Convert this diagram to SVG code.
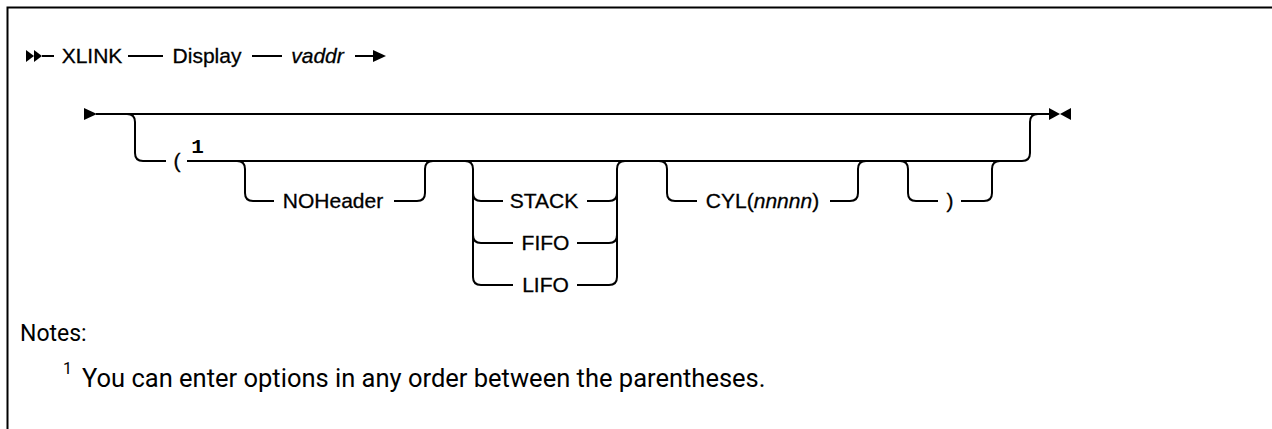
<svg xmlns="http://www.w3.org/2000/svg" width="1272" height="429" viewBox="0 0 1272 429">
<style>
  .t { font-family: "Liberation Sans", Arial, sans-serif; font-size: 21px; fill: #000; stroke: #000; stroke-width: 0.3; }
  .i { font-style: italic; }
  .sup { font-family: "Liberation Mono", "DejaVu Sans Mono", monospace; font-size: 21px; font-weight: bold; fill: #000; }
  .n { font-family: "Roboto", "Liberation Sans", sans-serif; fill: #000; }
  .ln { fill: none; stroke: #000; stroke-width: 2; }
  .ar { fill: #000; }
</style>
<rect x="0" y="0" width="1272" height="429" fill="#fff"/>
<path class="ln" d="M7.5,429 V7.5 H1272" stroke-width="2.5"/>

<g id="connectors">
  <!-- row 1 -->
  <polygon class="ar" points="26,50 34,56 26,62"/>
  <polygon class="ar" points="34,50 42,56 34,62"/>
  <path class="ln" d="M42,56 H54"/>
  <path class="ln" d="M128,56 H163"/>
  <path class="ln" d="M252,56 H282"/>
  <path class="ln" d="M355,56 H374"/>
  <polygon class="ar" points="373,50 386,56 373,62"/>
  <!-- row 2 main -->
  <polygon class="ar" points="84,108 97,114 84,120"/>
  <path class="ln" d="M96,114 H1050"/>
  <polygon class="ar" points="1049,108 1060,114 1049,120"/>
  <polygon class="ar" points="1071,108 1060,114 1071,120"/>
  <!-- optional parenthesis group -->
  <path class="ln" d="M127,114 Q135,114 135,122 V153 Q135,161 143,161 H166"/>
  <path class="ln" d="M187,161 H1022 Q1030,161 1030,153 V122 Q1030,114 1038,114"/>
  <!-- NOHeader -->
  <path class="ln" d="M237,161 Q245,161 245,169 V193 Q245,201 253,201 H274"/>
  <path class="ln" d="M394,201 H417 Q425,201 425,193 V169 Q425,161 433,161"/>
  <!-- STACK / FIFO / LIFO -->
  <path class="ln" d="M465,161 Q473,161 473,169 V277 Q473,285 481,285 H513"/>
  <path class="ln" d="M473,193 Q473,201 481,201 H503"/>
  <path class="ln" d="M473,235 Q473,243 481,243 H513"/>
  <path class="ln" d="M587,201 H609 Q617,201 617,193"/>
  <path class="ln" d="M577,243 H609 Q617,243 617,235"/>
  <path class="ln" d="M577,285 H609 Q617,285 617,277 V169 Q617,161 625,161"/>
  <!-- CYL -->
  <path class="ln" d="M659,161 Q667,161 667,169 V193 Q667,201 675,201 H697"/>
  <path class="ln" d="M830,201 H850 Q858,201 858,193 V169 Q858,161 866,161"/>
  <!-- ) -->
  <path class="ln" d="M900,161 Q908,161 908,169 V193 Q908,201 916,201 H938"/>
  <path class="ln" d="M961,201 H984 Q992,201 992,193 V169 Q992,161 1000,161"/>
</g>

<g id="node-xlink"><text class="t" x="92" y="63" text-anchor="middle">XLINK</text></g>
<g id="node-display"><text class="t" x="207" y="63" text-anchor="middle">Display</text></g>
<g id="node-vaddr"><text class="t i" x="317.5" y="63" text-anchor="middle">vaddr</text></g>
<g id="node-lparen">
  <text class="t" x="177" y="168" text-anchor="middle">(</text>
  <text class="sup" x="197.5" y="153" text-anchor="middle">1</text>
</g>
<g id="node-noheader"><text class="t" x="333" y="208" text-anchor="middle">NOHeader</text></g>
<g id="node-stack"><text class="t" x="544" y="208" text-anchor="middle">STACK</text></g>
<g id="node-fifo"><text class="t" x="545.5" y="250" text-anchor="middle">FIFO</text></g>
<g id="node-lifo"><text class="t" x="545.5" y="292" text-anchor="middle">LIFO</text></g>
<g id="node-cyl"><text class="t" x="762.5" y="208" text-anchor="middle">CYL(<tspan class="i">nnnnn</tspan>)</text></g>
<g id="node-rparen"><text class="t" x="950" y="208" text-anchor="middle">)</text></g>

<g id="notes">
  <text class="n" x="20" y="341" font-size="23">Notes:</text>
  <text class="n" x="63" y="374" font-size="16">1</text>
  <text class="n" x="82" y="387" font-size="25.5">You can enter options in any order between the parentheses.</text>
</g>
</svg>
